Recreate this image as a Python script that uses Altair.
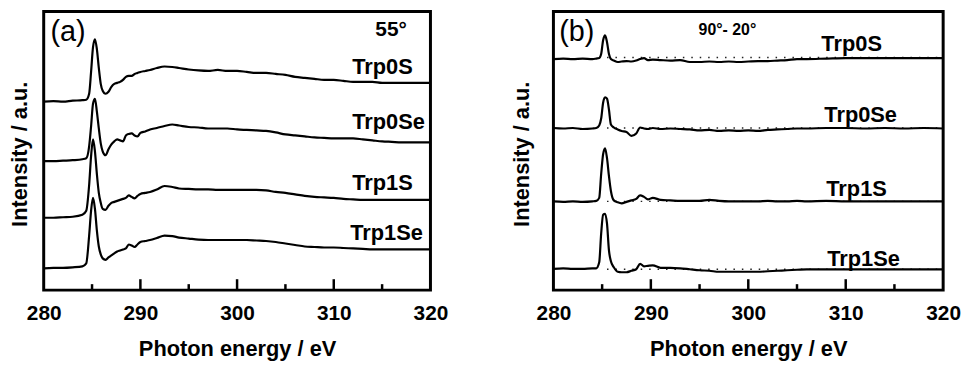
import altair as alt
import pandas as pd

SERIES = ["Trp0S", "Trp0Se", "Trp1S", "Trp1Se"]

# ---------------- panel (a): 55 deg spectra (stacked, a.u.) ----------------
ENERGY_A = [280, 281, 282, 283, 284, 284.4, 284.7, 284.9, 285.1, 285.3, 285.5, 285.7, 285.9,
            286.1, 286.4, 286.7, 287.0, 287.3, 287.6, 287.9, 288.2, 288.5, 288.8, 289.1, 289.4,
            289.7, 290.0, 290.5, 291.0, 291.7, 292.5, 293.3, 294, 295, 296, 297, 298, 299, 300,
            301, 302, 303, 304, 305, 306, 307, 308, 309, 310, 311, 312, 313, 314, 315, 316, 317,
            318, 319, 320]

A_TRP0S = [190, 190.5, 190, 191, 191.5, 192, 198, 220, 245, 253, 243, 224, 208,
           201, 198, 200, 205, 208, 209, 210, 212, 215, 216, 216, 218,
           219, 220, 221, 222, 224, 225.5, 225, 224, 222.5, 221.5, 221, 222, 221, 221,
           220, 219, 219, 218, 217, 215, 214, 213, 212, 212, 211, 210, 210, 210, 209, 209, 209,
           209, 209, 209]
A_TRP0SE = [130, 130, 130.5, 131, 132, 133, 145, 165, 188, 193, 180, 163, 148,
            140, 136, 142, 147, 150, 152, 151, 150, 156, 157.5, 158, 156,
            155, 158.5, 160, 162, 163.5, 165.5, 167, 166, 164.5, 164, 163, 163, 163, 162,
            161.5, 161, 160.5, 159, 157, 156, 155, 154, 153.5, 153, 153, 153, 152, 151, 150, 149.5, 149,
            149, 149, 149]
A_TRP1S = [73, 73, 73.5, 74, 76, 80, 106, 135, 152, 140, 117, 98, 88,
           82, 81, 85, 88, 89, 90, 91, 92, 93, 95.5, 94, 92.5,
           95, 97, 98, 99, 101.5, 105, 104, 102.5, 102, 101.5, 101.5, 101, 101, 101,
           101, 101, 100.5, 99, 98, 96.5, 95, 94, 93.5, 93, 92, 91.5, 91, 91, 91, 91, 91,
           91, 91, 91]
A_TRP1SE = [22, 22.5, 22.5, 23, 24, 27, 55, 80, 93, 82, 60, 44, 36,
            32, 30.5, 33, 35, 37, 39, 40, 41, 42, 46, 45, 43.5,
            46, 48.5, 49.5, 50.5, 52.5, 55, 54.5, 53, 52, 51, 50.5, 50.5, 50.5, 50.5,
            50.5, 50, 49.5, 48.5, 47, 45.5, 44, 43.5, 43, 43, 42.5, 42, 41.5, 41, 41, 41, 41,
            41, 41, 41]

# ---------------- panel (b): 90 deg - 20 deg difference spectra ----------------
ENERGY_B = [280, 281, 282, 283, 284, 284.4, 284.7, 284.9, 285.1, 285.3, 285.5, 285.7, 285.9,
            286.2, 286.6, 287.0, 287.5, 288.0, 288.5, 288.9, 289.3, 289.7, 290.2,
            291, 292, 293, 294, 295, 296, 297, 298, 299, 300, 301, 302, 303, 304, 305, 306,
            308, 310, 312, 314, 316, 318, 320]

B_TRP0S = [233, 233.5, 233, 233.5, 233, 233.5, 234, 238, 252, 257, 250, 238, 233,
           231.5, 230, 230.5, 231, 230.5, 231.5, 233, 234, 232, 232.5,
           232, 231.5, 232, 230, 230, 230.5, 230, 230.5, 230, 230.5, 231, 231, 231.5, 232, 233, 233,
           233.5, 234, 234, 234, 234, 234, 234]
B_TRP0SE = [163.5, 163, 163.5, 162.5, 163, 163.5, 166, 173, 189, 194.5, 193, 182, 167,
            164, 162, 160.5, 159.5, 155.5, 158, 164, 163, 162.5, 163.5,
            162.5, 163, 162.5, 162, 161, 161.5, 160.5, 161, 160.5, 161, 160.5, 161.5, 162, 162.5, 163, 163,
            163.5, 163.5, 163, 163.5, 163, 163.5, 163]
B_TRP1S = [89.5, 89, 89.5, 89, 89.5, 90, 93, 117, 137, 143, 133, 115, 100,
           90.5, 88.5, 87.5, 89, 90.5, 92, 95.5, 94, 91.5, 93,
           91, 90.5, 90, 90, 90, 91, 90, 89.5, 89.5, 89.5, 89.5, 90, 89.5, 89.5, 90, 89.5,
           90, 89.5, 89.5, 89.5, 89.5, 89.5, 89.5]
B_TRP1SE = [21.5, 22, 21.5, 21.5, 22, 22, 28, 57, 76, 77, 67, 40, 29,
            23, 18.5, 18, 18, 19.5, 21, 26.5, 24, 24.5, 25,
            22.5, 22.5, 22, 21, 20, 19.5, 18.5, 18.5, 18.5, 18.5, 18.5, 19, 19.5, 20, 20.5, 21,
            21, 21, 21, 21, 21, 21, 21]

# dotted zero lines of the difference spectra
B_ZERO = [234.5, 163.5, 89.5, 21]
B_ZERO_START = [285.5, 285.5, 285.5, 285.5]
B_ZERO_END = [320, 320, 320, 320]

# series labels (energy, intensity)
LABEL_A_X = [311.9, 311.9, 311.9, 311.7]
LABEL_A_Y = [225, 169, 108, 58]
LABEL_B_X = [307.5, 307.8, 308.0, 308.1]
LABEL_B_Y = [248, 177, 102, 31]

# panel annotations
TAG_TEXT = ["(a)", "(b)"]
TAG_X = [280.7, 280.6]
TAG_Y = [260, 260]
ANGLE_TEXT = ["55°", "90°- 20°"]
ANGLE_X = [314.3, 294.9]
ANGLE_Y = [262, 262]

X_LABELS = [280, 290, 300, 310, 320]
MAJOR_TICKS = [290, 300, 310]
MINOR_TICKS = [285, 295, 305, 315]

FONT = "Liberation Sans"
H = 281


def long_df(energy, lists):
    rows = []
    for name, vals in zip(SERIES, lists):
        for e, v in zip(energy, vals):
            rows.append({"series": name, "energy": e, "intensity": v})
    return pd.DataFrame(rows)


def encodings(title_x):
    x = alt.X("energy:Q",
              scale=alt.Scale(domain=[280, 320], nice=False, zero=False),
              axis=alt.Axis(values=X_LABELS, format="d", title="Photon energy / eV",
                            ticks=False, tickSize=0, domain=False, grid=False,
                            labelFlush=False, labelPadding=13,
                            titleBaseline="alphabetic", titleY=65.5))
    y = alt.Y("intensity:Q",
              scale=alt.Scale(domain=[0, H], nice=False, zero=False),
              axis=alt.Axis(title="Intensity / a.u.", labels=False, ticks=False, domain=False,
                            grid=False, titleX=title_x, titleY=143.5, titleAngle=270,
                            titleBaseline="alphabetic", titleAlign="center"))
    return x, y


def panel(energy, lists, lab_x, lab_y, tag_i, title_x, width, zero=False):
    X, Y = encodings(title_x)
    df = long_df(energy, lists)
    frame = alt.Chart(pd.DataFrame({"f": [0]})).mark_rect(
        fillOpacity=0, stroke="black", strokeWidth=3).encode(
        x=alt.value(0), x2=alt.value(width), y=alt.value(0), y2=alt.value(H))
    lines = alt.Chart(df).mark_line(color="black", strokeWidth=2.2, interpolate="monotone",
                                    strokeJoin="round").encode(x=X, y=Y, detail="series:N")
    major = alt.Chart(pd.DataFrame({"energy": MAJOR_TICKS})).mark_rule(
        color="black", strokeWidth=2.5).encode(x=X, y=alt.value(H), y2=alt.value(H - 11))
    minor = alt.Chart(pd.DataFrame({"energy": MINOR_TICKS})).mark_rule(
        color="black", strokeWidth=2.5).encode(x=X, y=alt.value(H), y2=alt.value(H - 6))
    labels = alt.Chart(pd.DataFrame({"energy": lab_x, "intensity": lab_y, "t": SERIES})).mark_text(
        font=FONT, fontSize=22, fontWeight="bold", align="left", baseline="middle",
        color="black").encode(x=X, y=Y, text="t:N")
    tag = alt.Chart(pd.DataFrame({"energy": [TAG_X[tag_i]], "intensity": [TAG_Y[tag_i]],
                                  "t": [TAG_TEXT[tag_i]]})).mark_text(
        font=FONT, fontSize=29, align="left", baseline="middle", color="black").encode(
        x=X, y=Y, text="t:N")
    ang = alt.Chart(pd.DataFrame({"energy": [ANGLE_X[tag_i]], "intensity": [ANGLE_Y[tag_i]],
                                  "t": [ANGLE_TEXT[tag_i]]})).mark_text(
        font=FONT, fontSize=21 if tag_i == 0 else 16, fontWeight="bold", align="left",
        baseline="middle", color="black").encode(x=X, y=Y, text="t:N")
    layers = [lines, major, minor, labels, tag, ang]
    if zero:
        zdf = pd.DataFrame({"energy": B_ZERO_START, "energy_end": B_ZERO_END, "intensity": B_ZERO})
        dots = alt.Chart(zdf).mark_rule(color="#222222", strokeWidth=1.4,
                                        strokeDash=[1.5, 7]).encode(
            x=X, x2=alt.X2("energy_end"), y=Y)
        layers = [dots] + layers
    layers = layers + [frame]
    return alt.layer(*layers).properties(width=width, height=H)


pa = panel(ENERGY_A, [A_TRP0S, A_TRP0SE, A_TRP1S, A_TRP1SE], LABEL_A_X, LABEL_A_Y, 0, -17, 390)
pb = panel(ENERGY_B, [B_TRP0S, B_TRP0SE, B_TRP1S, B_TRP1SE], LABEL_B_X, LABEL_B_Y, 1, -25, 393,
           zero=True)

chart = alt.hconcat(pa, pb, spacing=124, bounds="flush").properties(
    padding=0, background="white"
).configure_view(
    strokeWidth=0
).configure_axis(
    labelFont=FONT, labelFontSize=21, labelFontWeight="bold", labelColor="black",
    titleFont=FONT, titleFontSize=22, titleFontWeight="bold", titleColor="black"
)

chart.save("out.html", embed_options={"renderer": "svg", "actions": False})
